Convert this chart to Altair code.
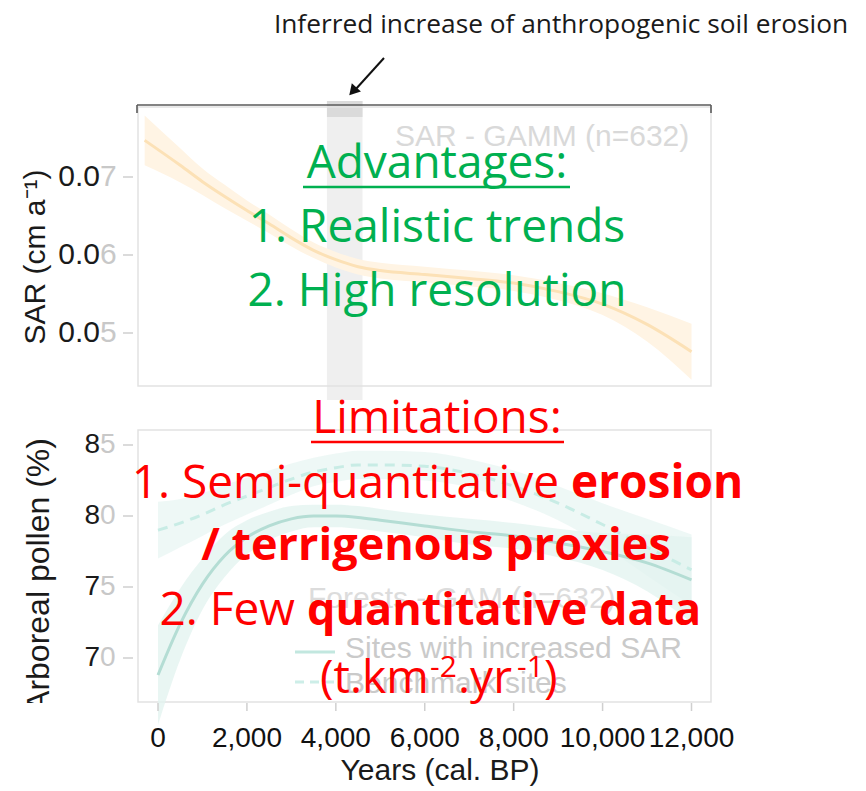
import altair as alt
import pandas as pd

# ---------------- data ----------------
sar_years = [-300, 500, 1000, 1500, 2000, 2500, 3000, 3500, 4000, 4500, 5000,
             6000, 7000, 8000, 9000, 10000, 11000, 12000]
sar_vals = [0.0747, 0.0715, 0.0694, 0.0675, 0.0657, 0.0640, 0.0622, 0.0606, 0.0594,
            0.0585, 0.0580, 0.0575, 0.0570, 0.0564, 0.0553, 0.0537, 0.0511, 0.0476]
sar_half = [0.0032, 0.0022, 0.0017, 0.0015, 0.0013, 0.0012, 0.0011, 0.0010, 0.0010,
            0.0010, 0.0010, 0.0010, 0.0010, 0.0010, 0.0011, 0.0014, 0.0022, 0.0036]

ap_years = [0, 500, 1000, 1500, 2000, 2500, 3000, 3500, 4000, 4500, 5000,
            6000, 7000, 8000, 9000, 10000, 11000, 12000]
ap_sites = [68.8, 72.4, 75.2, 77.2, 78.5, 79.3, 79.8, 80.0, 80.0, 79.9, 79.7,
            79.3, 78.9, 78.6, 78.1, 77.5, 76.7, 75.5]
ap_sites_half = [3.5, 2.5, 1.8, 1.5, 1.2, 1.0, 0.9, 0.8, 0.8, 0.8, 0.8,
                 0.8, 0.9, 0.9, 1.0, 1.3, 2.0, 3.0]
ap_bench = [79.0, 79.5, 80.1, 80.8, 81.4, 82.0, 82.6, 83.1, 83.4, 83.6, 83.6,
            83.5, 83.0, 82.1, 80.9, 79.4, 77.8, 76.2]
ap_bench_half = [2.0, 1.7, 1.5, 1.4, 1.3, 1.2, 1.1, 1.0, 1.0, 1.0, 1.0,
                 1.0, 1.0, 1.1, 1.2, 1.5, 2.0, 2.5]

x_ticks = [0, 2000, 4000, 6000, 8000, 10000, 12000]
x_labels = ["0", "2,000", "4,000", "6,000", "8,000", "10,000", "12,000"]
sar_ticks = [0.05, 0.06, 0.07]
sar_labels = ["0.05", "0.06", "0.07"]
ap_ticks = [70, 75, 80, 85]
ap_labels = ["70", "75", "80", "85"]
erosion_period = [3800, 4600]

# ---------------- scales ----------------
xs = alt.Scale(domain=[0, 12000], range=[158, 691.5], nice=False, zero=False)
ys = alt.Scale(domain=[0.05, 0.07], range=[333, 177], nice=False, zero=False)
ya = alt.Scale(domain=[70, 85], range=[658, 445], nice=False, zero=False)

one = pd.DataFrame({"k": [0]})

sar_df = pd.DataFrame({
    "yr": sar_years, "v": sar_vals,
    "lo": [v - h for v, h in zip(sar_vals, sar_half)],
    "hi": [v + h for v, h in zip(sar_vals, sar_half)],
})
ap_df = pd.DataFrame({
    "yr": ap_years, "s": ap_sites,
    "slo": [v - h for v, h in zip(ap_sites, ap_sites_half)],
    "shi": [v + h for v, h in zip(ap_sites, ap_sites_half)],
    "b": ap_bench,
    "blo": [v - h for v, h in zip(ap_bench, ap_bench_half)],
    "bhi": [v + h for v, h in zip(ap_bench, ap_bench_half)],
})
xt_df = pd.DataFrame({"t": x_ticks, "lab": x_labels})
st_df = pd.DataFrame({"t": sar_ticks, "dark": [s[:-1] for s in sar_labels],
                      "light": [s[-1] for s in sar_labels]})
at_df = pd.DataFrame({"t": ap_ticks, "dark": [s[:-1] for s in ap_labels],
                      "light": [s[-1] for s in ap_labels]})
band_df = pd.DataFrame({"a": [erosion_period[0]], "b": [erosion_period[1]]})


def X(f):
    return alt.X(f, type="quantitative", scale=xs, axis=None)


def YS(f):
    return alt.Y(f, type="quantitative", scale=ys, axis=None)


def YA(f):
    return alt.Y(f, type="quantitative", scale=ya, axis=None)


def vrule(x1, x2, y1, y2, color, width=1.5, dash=None):
    kw = dict(color=color, strokeWidth=width)
    if dash:
        kw["strokeDash"] = dash
    return alt.Chart(one).mark_rule(**kw).encode(
        x=alt.value(x1), x2=alt.value(x2), y=alt.value(y1), y2=alt.value(y2))


def label(txt, x, y, size, color, font="Open Sans", weight="normal", align="center",
          angle=None, baseline="alphabetic"):
    kw = dict(text=txt, font=font, fontSize=size, color=color, fontWeight=weight,
              align=align, baseline=baseline)
    if angle is not None:
        kw["angle"] = angle
    return alt.Chart(one).mark_text(**kw).encode(x=alt.value(x), y=alt.value(y))


layers = []

# erosion period band
layers.append(alt.Chart(band_df).mark_rect(color="#efefef").encode(
    x=X("a"), x2="b", y=alt.value(101), y2=alt.value(400)))
layers.append(alt.Chart(band_df).mark_rect(color="#dadada").encode(
    x=X("a"), x2="b", y=alt.value(101), y2=alt.value(117)))

# panel frames
for (y1, y2) in [(107, 386), (430, 702)]:
    layers.append(alt.Chart(one).mark_rect(fillOpacity=0, stroke="#e2e2e2", strokeWidth=1.5).encode(
        x=alt.value(138), x2=alt.value(711), y=alt.value(y1), y2=alt.value(y2)))

# bracket line on top
layers.append(vrule(137, 711, 105, 105, "#5a5a5a", 1.6))
layers.append(vrule(137, 137, 105, 113, "#5a5a5a", 1.6))
layers.append(vrule(711, 711, 105, 113, "#5a5a5a", 1.6))

# SAR panel
layers.append(alt.Chart(sar_df).mark_area(color="#fff4e4", interpolate="monotone").encode(
    x=X("yr"), y=YS("lo"), y2="hi"))
layers.append(alt.Chart(sar_df).mark_line(color="#fce1b6", strokeWidth=3, interpolate="monotone").encode(
    x=X("yr"), y=YS("v")))
layers.append(label("SAR - GAMM (n=632)", 395, 146, 30, "#d9d9d9", font="Liberation Sans", align="left"))

# Arboreal pollen panel
layers.append(alt.Chart(ap_df).mark_area(color="#e8f6f3", opacity=0.75, interpolate="monotone").encode(
    x=X("yr"), y=YA("blo"), y2="bhi"))
layers.append(alt.Chart(ap_df).mark_area(color="#e2f3ef", opacity=0.75, interpolate="monotone").encode(
    x=X("yr"), y=YA("slo"), y2="shi"))
layers.append(alt.Chart(ap_df).mark_line(color="#c8ece5", strokeWidth=3, strokeDash=[10, 7],
                                         interpolate="monotone").encode(x=X("yr"), y=YA("b")))
layers.append(alt.Chart(ap_df).mark_line(color="#b4ddd4", strokeWidth=3, interpolate="monotone").encode(
    x=X("yr"), y=YA("s")))

# legend (faded)
layers.append(label("Forests - GAM (n=632)", 308, 608, 30, "#dcdcdc", font="Liberation Sans", align="left"))
layers.append(vrule(295, 335, 652, 652, "#c2e7df", 3))
layers.append(vrule(295, 335, 682, 682, "#cdeee8", 3, [9, 6]))
layers.append(label("Sites with increased SAR", 345, 658, 30, "#cacaca", font="Liberation Sans", align="left"))
layers.append(label("Benchmark sites", 345, 693, 30, "#cacaca", font="Liberation Sans", align="left"))

# y ticks & labels
layers.append(alt.Chart(st_df).mark_rule(color="#cfcfcf", strokeWidth=1.5).encode(
    x=alt.value(123), x2=alt.value(133), y=YS("t")))
layers.append(alt.Chart(at_df).mark_rule(color="#cfcfcf", strokeWidth=1.5).encode(
    x=alt.value(123), x2=alt.value(133), y=YA("t")))
layers.append(alt.Chart(st_df).mark_text(font="Liberation Sans", fontSize=30, color="#1a1a1a",
                                         align="right", baseline="middle").encode(
    x=alt.value(100), y=YS("t"), text="dark"))
layers.append(alt.Chart(st_df).mark_text(font="Liberation Sans", fontSize=30, color="#c8c8c8",
                                         align="left", baseline="middle").encode(
    x=alt.value(100), y=YS("t"), text="light"))
layers.append(alt.Chart(at_df).mark_text(font="Liberation Sans", fontSize=28, color="#1a1a1a",
                                         align="right", baseline="middle").encode(
    x=alt.value(100), y=YA("t"), text="dark"))
layers.append(alt.Chart(at_df).mark_text(font="Liberation Sans", fontSize=28, color="#c8c8c8",
                                         align="left", baseline="middle").encode(
    x=alt.value(100), y=YA("t"), text="light"))

# x ticks & labels
layers.append(alt.Chart(xt_df).mark_rule(color="#cfcfcf", strokeWidth=1.5).encode(
    x=X("t"), y=alt.value(703), y2=alt.value(711)))
layers.append(alt.Chart(xt_df).mark_text(font="Liberation Sans", fontSize=28,
                                         color="#111111", align="center", baseline="alphabetic").encode(
    x=X("t"), y=alt.value(747), text="lab"))
layers.append(label("Years (cal. BP)", 440, 780, 30, "#1a1a1a", font="Liberation Sans"))

# y titles
layers.append(label("SAR (cm a\u207b\u00b9)", 45, 257, 30, "#1a1a1a", font="Liberation Sans", angle=270))
layers.append(label("Arboreal pollen (%)", 49, 575, 32, "#1a1a1a", font="Liberation Sans", angle=270))
layers.append(alt.Chart(one).mark_rect(color="white").encode(
    x=alt.value(5), x2=alt.value(60), y=alt.value(703), y2=alt.value(725)))

# top annotation + arrow
layers.append(label("Inferred increase of anthropogenic soil erosion", 561, 33, 26.3, "#1a1a1a"))
layers.append(vrule(384, 355, 58, 90, "#111111", 2))
layers.append(alt.Chart(one).mark_point(shape="triangle", filled=True, color="#111111", size=150,
                                        angle=222, opacity=1).encode(x=alt.value(354), y=alt.value(90)))

# overlay texts (green)
G = "#00b050"
R = "#ff0000"
layers.append(label("Advantages:", 437, 178, 46, G))
layers.append(vrule(303, 570, 187, 187, G, 2.5))
layers.append(label("1. Realistic trends", 437, 242, 46, G))
layers.append(label("2. High resolution", 437, 306, 46, G))

# overlay texts (red)
layers.append(label("Limitations:", 437, 433, 46, R))
layers.append(vrule(311, 564, 442, 442, R, 2.5))
layers.append(label("1. Semi-quantitative", 559, 498, 46, R, align="right"))
layers.append(label("erosion", 571, 498, 46, R, weight="bold", align="left"))
layers.append(label("/ terrigenous proxies", 436, 560, 45, R, weight="bold"))
layers.append(label("2. Few", 295, 625, 46, R, align="right"))
layers.append(label("quantitative data", 307, 625, 45, R, weight="bold", align="left"))
layers.append(label("(t.km", 320, 693, 46, R, align="left"))
layers.append(label("-2", 430, 677, 30, R, align="left"))
layers.append(label(".yr", 458, 693, 46, R, align="left"))
layers.append(label("-1", 517, 677, 30, R, align="left"))
layers.append(label(")", 544, 693, 46, R, align="left"))

chart = alt.layer(*layers).resolve_scale(x="independent", y="independent").properties(
    width=866, height=791, padding=0, autosize=alt.AutoSizeParams(type="none"),
    background="white",
).configure_view(stroke=None)

chart.save("out.html", embed_options={"renderer": "svg", "actions": False})
